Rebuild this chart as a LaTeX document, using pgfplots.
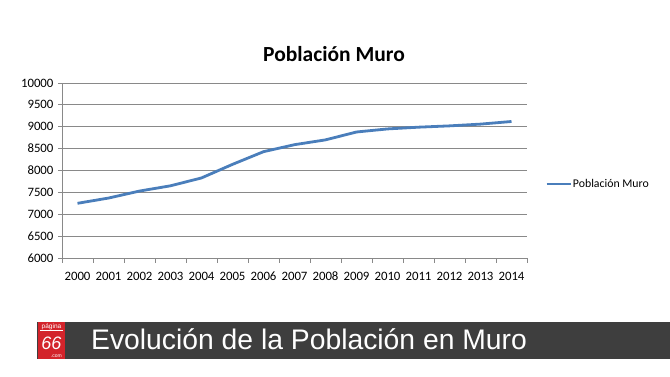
\documentclass[border=0pt]{standalone}
\usepackage{pgfplots}
\pgfplotsset{compat=1.18}
\usepackage{fontspec}
\setmainfont{Carlito}
\newfontfamily\arialf{Liberation Sans}
\definecolor{lineblue}{HTML}{4A7EBB}
\definecolor{gridgray}{HTML}{898989}
\definecolor{bannergray}{HTML}{3E3E3E}
\definecolor{logored}{HTML}{D3242B}
\begin{document}
\begin{tikzpicture}[x=1pt,y=1pt]
\path[use as bounding box] (0,0) rectangle (670,377);
\begin{axis}[
  at={(62pt,119pt)}, anchor=south west,
  scale only axis, width=465pt, height=175pt,
  xmin=-0.5, xmax=14.5, ymin=6000, ymax=10000,
  axis x line=bottom, axis y line=left,
  axis line style={gridgray, line width=0.8pt, -},
  xtick={0,...,14},
  xticklabels={2000,2001,2002,2003,2004,2005,2006,2007,2008,2009,2010,2011,2012,2013,2014},
  minor xtick={-0.5,0.5,...,14.5},
  x tick style={draw=none},
  minor x tick style={draw=gridgray, line width=0.8pt},
  minor tick length=5pt,
  major tick length=4pt,
  y tick style={gridgray, line width=0.8pt},
  tick align=outside,
  ytick={6000,6500,...,10000},
  scaled y ticks=false,
  ymajorgrids, grid style={gridgray, line width=0.8pt},
  /pgf/number format/assume math mode=true,
  /pgf/number format/set thousands separator={},
  ticklabel style={font=\fontsize{12.8}{14}\selectfont},
  xticklabel style={yshift=-6pt, text height=8.5pt, text depth=0pt},
  yticklabel style={xshift=-1pt},
  legend style={draw=none, fill=none, at={(axis description cs:1.0387,0.423)}, anchor=west, inner sep=0pt, font=\fontsize{11.8}{13}\selectfont, nodes={inner sep=1pt}},
  legend image code/.code={\draw[#1] (0pt,0pt) -- (24pt,0pt);},
  clip=false,
]
\addplot[lineblue, line width=2.8pt, line join=round] coordinates {
(0,7250) (1,7370) (2,7530) (3,7650) (4,7830) (5,8140) (6,8430) (7,8590)
(8,8700) (9,8880) (10,8950) (11,8990) (12,9020) (13,9060) (14,9120)};
\addlegendentry{Población Muro}
\end{axis}
\node[anchor=base, font=\fontsize{21.5}{24}\selectfont\bfseries] at (334,315.3) {Población Muro};
% banner
\fill[bannergray] (37,18) rectangle (670,55);
\fill[logored] (38,18) rectangle (65,55);
\node[anchor=base west, text=white, font=\arialf\fontsize{28.3}{30}\selectfont, inner sep=0pt] at (91,27.7) {Evolución de la Población en Muro};
\node[anchor=base, text=white, font=\arialf\fontsize{6.5}{7}\selectfont, inner sep=0pt] at (51.5,48.5) {página};
\draw[white, line width=0.5pt] (40,46.5) -- (63,46.5);
\node[anchor=base, text=white, font=\arialf\fontsize{18}{20}\selectfont\itshape, inner sep=0pt] at (51.5,27) {66};
\node[anchor=base east, text=white, font=\arialf\fontsize{5}{6}\selectfont, inner sep=0pt] at (62,19.5) {.com};
\end{tikzpicture}
\end{document}
